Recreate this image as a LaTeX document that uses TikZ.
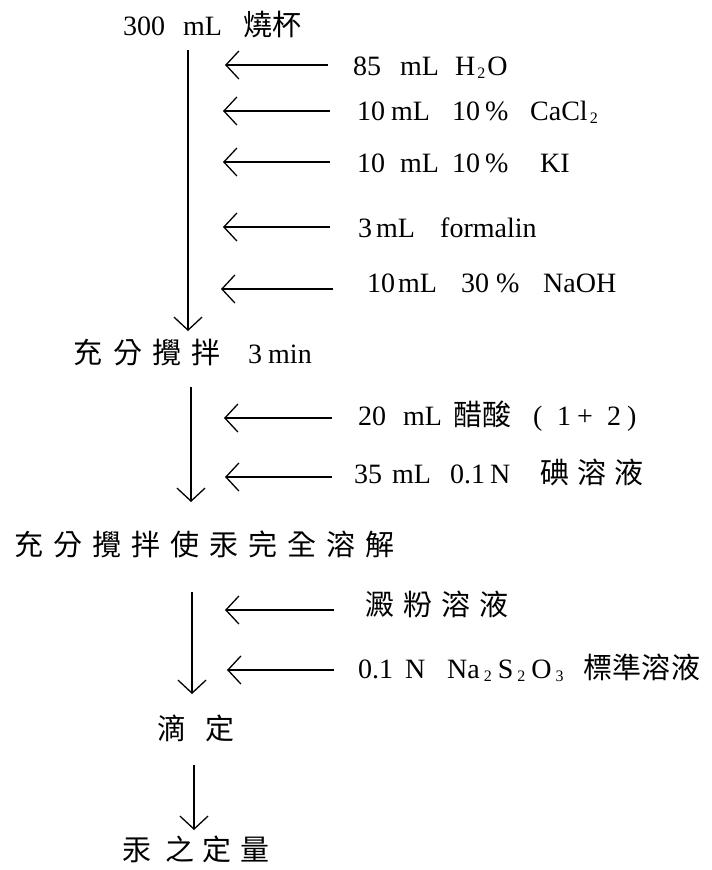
\documentclass[tikz,border=0pt]{standalone}
\usepackage{fontspec}
\setmainfont{Liberation Serif}
\newfontfamily\cjk{Noto Sans CJK TC}
\usetikzlibrary{arrows.meta}
\newcommand\cell[2]{\makebox[#1pt][l]{#2}}
\newcommand\zh[1]{{\cjk\fontsize{29}{31}\selectfont #1}}
\newcommand\zc[2]{\makebox[#1pt][l]{\zh{#2}}}
\newcommand\chsub[1]{\raisebox{-3pt}{\fontsize{16}{16}\selectfont #1}}
\begin{document}
\begin{tikzpicture}[x=1pt,y=-1pt,
  lbl/.style={anchor=base west,inner sep=0pt,font=\fontsize{28}{31}\selectfont},
  flow/.style={line width=1.3pt,-{Straight Barb[length=13pt,width=28pt,line width=1.3pt]}},
  side/.style={line width=1.3pt,-{Straight Barb[length=13pt,width=28pt,line width=1.3pt]}}]
\useasboundingbox[fill=white] (0,0) rectangle (712,870);

% main steps
\node[lbl] (n0) at (123,35) {\cell{60}{300}\cell{60}{mL}\zh{燒杯}};
\node[lbl] (n1) at (73,363) {\zc{40}{充}\zc{39}{分}\zc{39}{攪}\zc{57}{拌}\cell{20}{3}min};
\node[lbl] (n2) at (14,555) {\zc{39}{充}\zc{39}{分}\zc{39}{攪}\zc{39}{拌}\zc{39}{使}\zc{39}{汞}\zc{39}{完}\zc{39}{全}\zc{39}{溶}\zh{解}};
\node[lbl] (n3) at (157,739) {\zc{48}{滴}\zh{定}};
\node[lbl] (n4) at (122,860) {\zc{43}{汞}\zc{37}{之}\zc{38}{定}\zh{量}};

% reagents
\node[lbl] (r1) at (353,75) {\cell{47}{85}\cell{55}{mL}H\kern2pt\chsub{2}\kern2pt O};
\node[lbl] (r2) at (357,120) {\cell{34}{10}\cell{61}{mL}\cell{33}{10}\cell{45}{\%}CaCl\kern2pt\chsub{2}};
\node[lbl] (r3) at (357,172) {\cell{43}{10}\cell{52}{mL}\cell{33}{10}\cell{55}{\%}KI};
\node[lbl] (r4) at (358,237) {\cell{18}{3}\cell{64}{mL}formalin};
\node[lbl] (r5) at (367,292) {\cell{31}{10}\cell{63}{mL}\cell{35}{30}\cell{47}{\%}NaOH};
\node[lbl] (r6) at (358,425) {\cell{45}{20}\cell{50}{mL}\zc{80}{醋酸}\cell{24}{(}\cell{20}{1}\cell{30}{+}\cell{20}{2})};
\node[lbl] (r7) at (354,483) {\cell{38}{35}\cell{58}{mL}\cell{40}{0.1}\cell{50}{N}\zc{37}{碘}\zc{37}{溶}\zh{液}};
\node[lbl] (r8) at (365,615) {\zc{38}{澱}\zc{38}{粉}\zc{38}{溶}\zh{液}};
\node[lbl] (r9) at (358,678) {\cell{47}{0.1}\cell{42}{N}\cell{136}{Na\kern4pt\chsub{2}\kern6pt S\kern4pt\chsub{2}\kern6pt O\kern4pt\chsub{3}}\zc{29}{標}\zc{29}{準}\zc{30}{溶}\zh{液}};

% vertical flow arrows
\coordinate (v1s) at (188,50);  \coordinate (v1e) at (188,331);
\coordinate (v2s) at (191,387); \coordinate (v2e) at (191,502);
\coordinate (v3s) at (192,592); \coordinate (v3e) at (192,694);
\coordinate (v4s) at (194,765); \coordinate (v4e) at (194,830);
\draw[flow] (v1s) -- (v1e);
\draw[flow] (v2s) -- (v2e);
\draw[flow] (v3s) -- (v3e);
\draw[flow] (v4s) -- (v4e);

% side arrows
\coordinate (a1t) at (328,65);  \coordinate (a1h) at (225,65);
\coordinate (a2t) at (330,111); \coordinate (a2h) at (223,111);
\coordinate (a3t) at (330,162); \coordinate (a3h) at (223,162);
\coordinate (a4t) at (330,227); \coordinate (a4h) at (223,227);
\coordinate (a5t) at (333,289); \coordinate (a5h) at (221,289);
\coordinate (a6t) at (332,418); \coordinate (a6h) at (224,418);
\coordinate (a7t) at (332,477); \coordinate (a7h) at (225,477);
\coordinate (a8t) at (334,610); \coordinate (a8h) at (225,610);
\coordinate (a9t) at (334,670); \coordinate (a9h) at (227,670);
\foreach \i in {1,...,9} {\draw[side] (a\i t) -- (a\i h);}
\end{tikzpicture}
\end{document}
